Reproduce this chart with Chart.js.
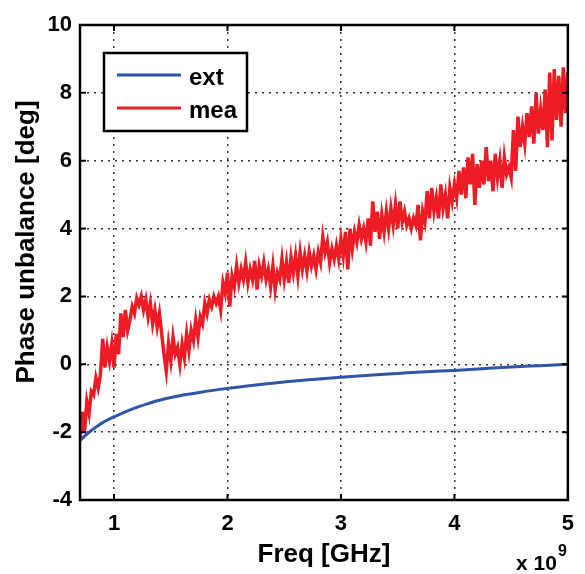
<!DOCTYPE html>
<html>
<head>
<meta charset="utf-8">
<script src="https://cdn.jsdelivr.net/npm/chart.js@4/dist/chart.umd.min.js"></script>
<style>
  html, body { margin: 0; padding: 0; background: #ffffff; }
  #wrap { width: 585px; height: 574px; position: relative; }
</style>
</head>
<body>
<div id="wrap"><canvas id="phaseChart"></canvas></div>
<script>
// Data (frequency in GHz, axis shows "x 10^9")
const extFreq = [0.70, 0.75, 0.80, 0.85, 0.90, 1.00, 1.10, 1.20, 1.30, 1.40, 1.50, 1.60, 1.75,
    2.00, 2.25, 2.50, 2.75, 3.00, 3.25, 3.50, 3.75, 4.00, 4.25, 4.50, 4.75, 5.00];
const extPhase = [-2.25, -2.09, -1.95, -1.83, -1.72, -1.55, -1.40, -1.27, -1.16, -1.06, -0.98, -0.91, -0.83,
    -0.71, -0.61, -0.52, -0.45, -0.38, -0.32, -0.27, -0.22, -0.18, -0.13, -0.08, -0.04, 0.0];

const meaFreq = [
    0.70, 0.72, 0.74, 0.76, 0.78, 0.80, 0.82, 0.84, 0.86, 0.88,
    0.90, 0.92, 0.94, 0.96, 0.98, 1.00, 1.02, 1.04, 1.06, 1.08,
    1.10, 1.12, 1.14, 1.16, 1.18, 1.20, 1.22, 1.24, 1.26, 1.28,
    1.30, 1.32, 1.34, 1.36, 1.38, 1.40, 1.42, 1.44, 1.46, 1.48,
    1.50, 1.52, 1.54, 1.56, 1.58, 1.60, 1.62, 1.64, 1.66, 1.68,
    1.70, 1.72, 1.74, 1.76, 1.78, 1.80, 1.82, 1.84, 1.86, 1.88,
    1.90, 1.92, 1.94, 1.96, 1.98, 2.00, 2.02, 2.04, 2.06, 2.08,
    2.10, 2.12, 2.14, 2.16, 2.18, 2.20, 2.22, 2.24, 2.26, 2.28,
    2.30, 2.32, 2.34, 2.36, 2.38, 2.40, 2.42, 2.44, 2.46, 2.48,
    2.50, 2.52, 2.54, 2.56, 2.58, 2.60, 2.62, 2.64, 2.66, 2.68,
    2.70, 2.72, 2.74, 2.76, 2.78, 2.80, 2.82, 2.84, 2.86, 2.88,
    2.90, 2.92, 2.94, 2.96, 2.98, 3.00, 3.02, 3.04, 3.06, 3.08,
    3.10, 3.12, 3.14, 3.16, 3.18, 3.20, 3.22, 3.24, 3.26, 3.28,
    3.30, 3.32, 3.34, 3.36, 3.38, 3.40, 3.42, 3.44, 3.46, 3.48,
    3.50, 3.52, 3.54, 3.56, 3.58, 3.60, 3.62, 3.64, 3.66, 3.68,
    3.70, 3.72, 3.74, 3.76, 3.78, 3.80, 3.82, 3.84, 3.86, 3.88,
    3.90, 3.92, 3.94, 3.96, 3.98, 4.00, 4.02, 4.04, 4.06, 4.08,
    4.10, 4.12, 4.14, 4.16, 4.18, 4.20, 4.22, 4.24, 4.26, 4.28,
    4.30, 4.32, 4.34, 4.36, 4.38, 4.40, 4.42, 4.44, 4.46, 4.48,
    4.50, 4.52, 4.54, 4.56, 4.58, 4.60, 4.62, 4.64, 4.66, 4.68,
    4.70, 4.72, 4.74, 4.76, 4.78, 4.80, 4.82, 4.84, 4.86, 4.88,
    4.90, 4.92, 4.94, 4.96, 4.98, 5.00
];
const meaPhase = [
    -2.25, -1.4, -2.0, -1.1, -1.45, -0.8, -0.9, -0.4, -0.7, -0.3,
    0.75, -0.1, 0.5, 0.1, 0.6, -0.1, 0.9, 0.3, 1.5, 0.8,
    1.6, 1.0, 1.3, 1.7, 1.5, 1.95, 1.75, 2.0, 1.6, 1.9,
    1.4, 1.8, 1.2, 1.6, 1.1, 1.5, 0.9, 0.3, -0.2, 0.6,
    0.1, 0.8, 0.3, 0.5, 0.0, 0.6, 0.2, 0.9, 0.4, 1.0,
    0.7, 1.3, 0.8, 1.4, 1.2, 1.8, 1.5, 1.9, 1.7, 2.0,
    1.8, 2.0, 1.6, 2.4, 2.1, 2.7, 1.7, 2.6, 2.3, 2.9,
    2.4, 2.8, 2.5, 3.0, 2.4, 2.8, 2.5, 3.05, 2.2, 2.9,
    2.6, 3.0, 2.5, 2.8, 2.3, 2.9, 2.2, 2.7, 2.5, 3.1,
    2.5, 3.0, 2.4, 3.15, 2.7, 3.2, 2.6, 3.3, 2.8, 3.2,
    2.75, 3.3, 2.9, 3.2, 2.8, 3.3, 3.0, 3.75, 3.3, 3.6,
    3.0, 3.4, 3.1, 3.5, 3.1, 3.7, 3.2, 3.9, 2.8, 4.0,
    3.4, 3.9, 3.6, 4.1, 3.7, 4.0, 3.6, 4.3, 3.5, 4.8,
    3.9, 4.5, 3.7, 4.4, 3.9, 4.5, 4.0, 4.6, 4.1, 4.7,
    4.0, 4.8, 4.2, 4.5, 4.1, 4.3, 4.0, 4.3, 4.1, 4.7,
    3.65, 4.5, 4.2, 5.1, 4.3, 5.2, 4.5, 4.9, 4.3, 5.3,
    4.6, 5.0, 4.3, 5.2, 4.8, 5.3, 4.9, 5.7, 5.0, 5.8,
    4.9, 6.1, 5.3, 6.2, 4.7, 5.9, 5.2, 6.0, 5.3, 6.4,
    5.4, 6.0, 5.1, 6.2, 5.5, 6.0, 5.2, 6.1, 5.6, 5.8,
    5.5, 6.9, 5.7, 7.3, 6.4, 7.0, 6.5, 7.4, 6.7, 7.6,
    6.5, 8.0, 6.8, 7.5, 6.9, 8.1, 6.4, 8.6, 6.6, 8.7,
    7.2, 8.5, 7.0, 8.75, 7.4, 8.6
];

const xTicks = [1, 2, 3, 4, 5];
const yTicks = [-4, -2, 0, 2, 4, 6, 8, 10];
const seriesLabels = ['ext', 'mea'];

const FONT = '"Liberation Sans", Arial, Helvetica, sans-serif';

// Kotak, tick ke dalam, legend, label sumbu-y dan eksponen x 10^9
const matlabFrame = {
    id: 'matlabFrame',
    afterDraw(chart) {
        const { ctx, chartArea: a, scales } = chart;
        ctx.save();
        ctx.strokeStyle = '#000';
        ctx.lineWidth = 2;
        ctx.beginPath();
        xTicks.forEach(v => {
            const px = scales.x.getPixelForValue(v);
            ctx.moveTo(px, a.bottom); ctx.lineTo(px, a.bottom - 6);
            ctx.moveTo(px, a.top); ctx.lineTo(px, a.top + 6);
        });
        yTicks.forEach(v => {
            const py = scales.y.getPixelForValue(v);
            ctx.moveTo(a.left, py); ctx.lineTo(a.left + 6, py);
            ctx.moveTo(a.right, py); ctx.lineTo(a.right - 6, py);
        });
        ctx.stroke();
        ctx.lineWidth = 2.5;
        ctx.strokeRect(a.left, a.top, a.right - a.left, a.bottom - a.top);

        // legend
        const lx = a.left + 24, ly = a.top + 28;
        ctx.fillStyle = '#fff';
        ctx.fillRect(lx, ly, 143, 78);
        ctx.lineWidth = 2.5;
        ctx.strokeRect(lx, ly, 143, 78);
        chart.data.datasets.forEach((ds, i) => {
            const yy = ly + 22 + i * 33;
            ctx.strokeStyle = ds.borderColor;
            ctx.lineWidth = 3;
            ctx.beginPath();
            ctx.moveTo(lx + 13, yy); ctx.lineTo(lx + 77, yy);
            ctx.stroke();
            ctx.fillStyle = '#000';
            ctx.font = 'bold 24px ' + FONT;
            ctx.textAlign = 'left';
            ctx.textBaseline = 'alphabetic';
            ctx.fillText(ds.label, lx + 85, yy + 10);
        });

        // label sumbu y
        ctx.save();
        ctx.translate(34, 242);
        ctx.rotate(-Math.PI / 2);
        ctx.font = 'bold 26px ' + FONT;
        ctx.fillStyle = '#000';
        ctx.textAlign = 'center';
        ctx.textBaseline = 'alphabetic';
        ctx.fillText('Phase unbalance [deg]', 0, 0);
        ctx.restore();

        // eksponen sumbu x
        ctx.fillStyle = '#000';
        ctx.font = 'bold 21px ' + FONT;
        ctx.textAlign = 'right';
        ctx.textBaseline = 'alphabetic';
        ctx.fillText('x 10', a.right - 11, 570);
        ctx.font = 'bold 16px ' + FONT;
        ctx.textAlign = 'left';
        ctx.fillText('9', a.right - 10, 556);
        ctx.restore();
    }
};

const canvas = document.getElementById('phaseChart');
new Chart(canvas.getContext('2d'), {
    type: 'line',
    plugins: [matlabFrame],
    data: {
        datasets: [
            {
                label: seriesLabels[0],
                data: extFreq.map((f, i) => ({ x: f, y: extPhase[i] })),
                borderColor: '#2f55a8',
                borderWidth: 3,
                pointRadius: 0,
                cubicInterpolationMode: 'monotone'
            },
            {
                label: seriesLabels[1],
                data: meaFreq.map((f, i) => ({ x: f, y: meaPhase[i] })),
                borderColor: '#ed1c24',
                borderWidth: 3.5,
                pointRadius: 0,
                tension: 0
            }
        ]
    },
    options: {
        responsive: true,
        maintainAspectRatio: false,
        animation: false,
        layout: { padding: { left: 0, right: 7, top: 25, bottom: 0 } },
        plugins: {
            legend: { display: false },
            tooltip: { enabled: false }
        },
        scales: {
            x: {
                type: 'linear',
                min: 0.7,
                max: 5,
                afterBuildTicks: s => { s.ticks = xTicks.map(v => ({ value: v })); },
                afterFit: s => { s.height = 74; },
                ticks: {
                    color: '#000',
                    font: { family: FONT, size: 22, weight: 'bold' },
                    padding: 11,
                    maxRotation: 0,
                    callback: v => String(v)
                },
                grid: { color: '#333', lineWidth: 1.5, drawTicks: false },
                border: { display: false, dash: [2, 5] },
                title: {
                    display: true,
                    text: 'Freq [GHz]',
                    color: '#000',
                    font: { family: FONT, size: 26, weight: 'bold' },
                    padding: { top: 0, bottom: 4 }
                }
            },
            y: {
                min: -4,
                max: 10,
                afterBuildTicks: s => { s.ticks = yTicks.map(v => ({ value: v })); },
                afterFit: s => { s.width = 80; },
                ticks: {
                    color: '#000',
                    font: { family: FONT, size: 22, weight: 'bold' },
                    padding: 8
                },
                grid: { color: '#333', lineWidth: 1.5, drawTicks: false },
                border: { display: false, dash: [2, 5] }
            }
        }
    }
});
</script>
</body>
</html>
